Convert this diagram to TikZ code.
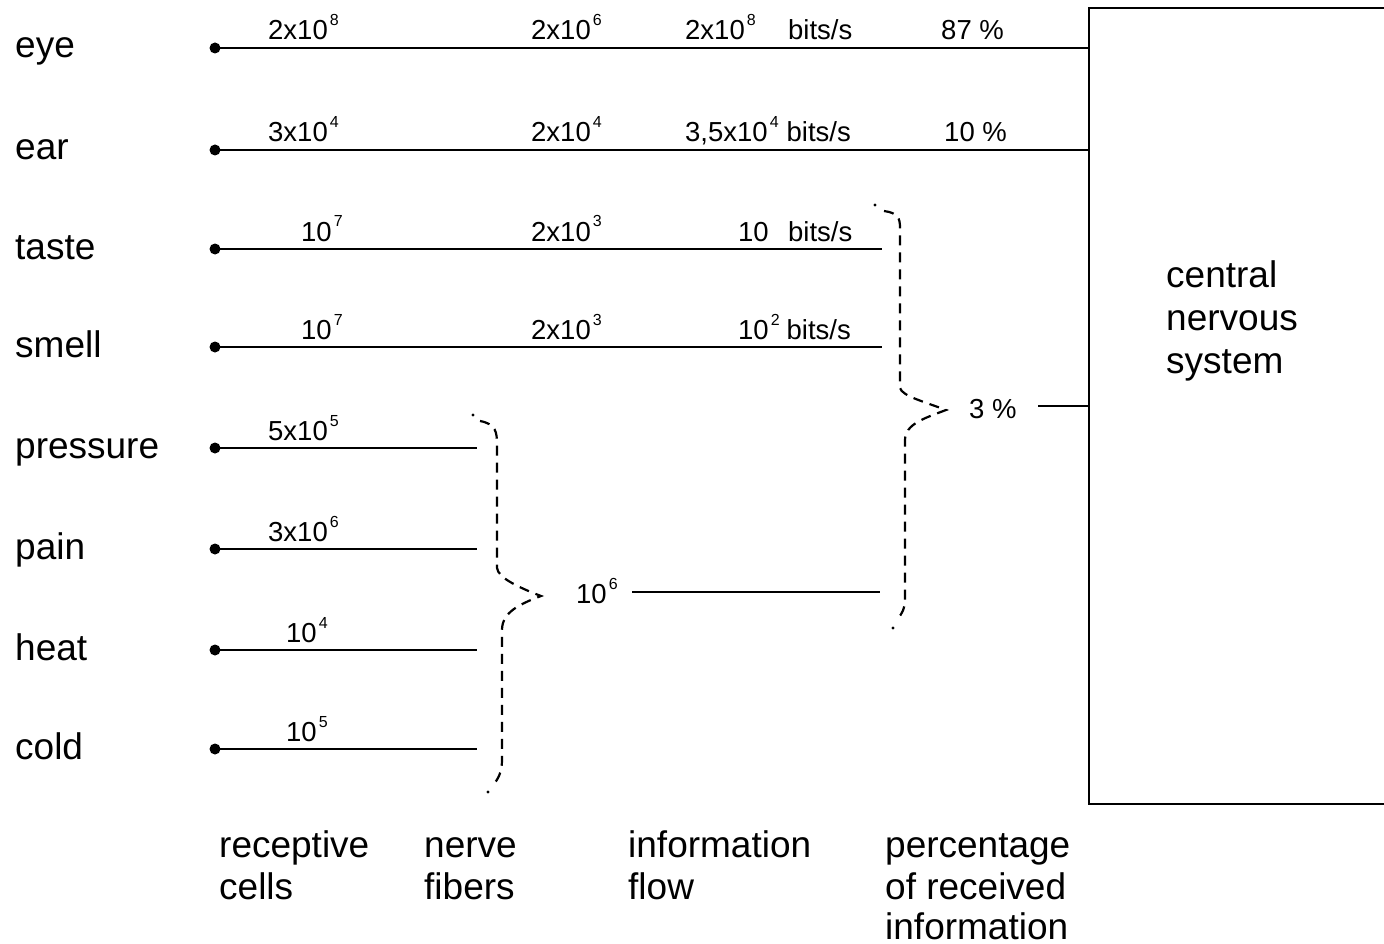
\documentclass[tikz,border=0pt]{standalone}
\usepackage{fontspec}
\setmainfont{Liberation Sans}
\newcommand\ex[1]{\hspace{2pt}\raisebox{14pt}{\fontsize{16}{16}\selectfont #1}}
\begin{document}
\begin{tikzpicture}[x=1pt,y=-1pt, line width=2.4pt,
  big/.style={font=\fontsize{37}{43}\selectfont, inner sep=0pt, anchor=base west},
  small/.style={font=\fontsize{27.5}{30}\selectfont, inner sep=0pt, anchor=base west},
  dot/.style={circle, fill=black, inner sep=0pt, minimum size=11pt},
  brace/.style={line width=2.2pt, dash pattern=on 10pt off 7pt}]
\useasboundingbox (0,0) rectangle (1384,944);

% box
\coordinate (cnsTL) at (1089,8);
\coordinate (cnsBL) at (1089,804);
\draw (1384,8) -- (cnsTL) -- (cnsBL) -- (1384,804);
\node[big] (cns1) at (1165,287) {central};
\node[big] (cns2) at (1165,330) {nervous};
\node[big] (cns3) at (1165,373) {system};

% left labels
\node[big] (leye) at (14,58) {eye};
\node[big] (lear) at (14,160) {ear};
\node[big] (ltaste) at (14,259) {taste};
\node[big] (lsmell) at (14,357) {smell};
\node[big] (lpress) at (14,458) {pressure};
\node[big] (lpain) at (14,559) {pain};
\node[big] (lheat) at (14,660) {heat};
\node[big] (lcold) at (14,759) {cold};

% dots
\node[dot] (deye) at (215,48) {};
\node[dot] (dear) at (215,150) {};
\node[dot] (dtaste) at (215,249) {};
\node[dot] (dsmell) at (215,347) {};
\node[dot] (dpress) at (215,448) {};
\node[dot] (dpain) at (215,549) {};
\node[dot] (dheat) at (215,650) {};
\node[dot] (dcold) at (215,749) {};

% line ends
\coordinate (etaste) at (882,249);
\coordinate (esmell) at (882,347);
\coordinate (epress) at (477,448);
\coordinate (epain) at (477,549);
\coordinate (eheat) at (477,650);
\coordinate (ecold) at (477,749);
\coordinate (fs) at (632,592);
\coordinate (fe) at (880,592);
\coordinate (ps) at (1038,406);

\draw (deye.center) -- (deye.center -| cnsTL);
\draw (dear.center) -- (dear.center -| cnsTL);
\draw (dtaste.center) -- (etaste);
\draw (dsmell.center) -- (esmell);
\draw (dpress.center) -- (epress);
\draw (dpain.center) -- (epain);
\draw (dheat.center) -- (eheat);
\draw (dcold.center) -- (ecold);
\draw (fs) -- (fe);
\draw (ps) -- (ps -| cnsTL);

% eye row
\node[small] (a1) at (267,40) {2x10\ex{8}};
\node[small] (a2) at (530,40) {2x10\ex{6}};
\node[small] (a3) at (684,40) {2x10\ex{8}};
\node[small] (a4) at (787,40) {bits/s};
\node[small] (a5) at (940,40) {87 \%};
% ear row
\node[small] (b1) at (267,142) {3x10\ex{4}};
\node[small] (b2) at (530,142) {2x10\ex{4}};
\node[small] (b3) at (684,142) {3,5x10\ex{4}\hspace{8pt}bits/s};
\node[small] (b5) at (943,142) {10 \%};
% taste row
\node[small] (c1) at (300,241) {10\ex{7}};
\node[small] (c2) at (530,241) {2x10\ex{3}};
\node[small] (c3) at (737,241) {10};
\node[small] (c4) at (787,241) {bits/s};
% smell row
\node[small] (s1) at (300,339) {10\ex{7}};
\node[small] (s2) at (530,339) {2x10\ex{3}};
\node[small] (s3) at (737,339) {10\ex{2}\hspace{7pt}bits/s};
% other
\node[small] (p1) at (267,440) {5x10\ex{5}};
\node[small] (q1) at (267,541) {3x10\ex{6}};
\node[small] (h1) at (285,642) {10\ex{4}};
\node[small] (k1) at (285,741) {10\ex{5}};
\node[small] (n6) at (575,603) {10\ex{6}};
\node[small] (pc) at (968,418) {3 \%};

% braces
\fill (473,415) circle (1.6pt);
\draw[brace] (480,421) .. controls (496,424) and (497,432) .. (497,445) -- (497,568)
  .. controls (498,578) and (520,588) .. (541,596)
  .. controls (520,604) and (502,612) .. (502,630) -- (502,760)
  .. controls (502,772) and (498,780) .. (492,786);
\fill (488,792) circle (1.6pt);

\fill (875,205) circle (1.6pt);
\draw[brace] (884,211) .. controls (898,213) and (900,218) .. (900,228) -- (900,388)
  .. controls (902,396) and (925,402) .. (946,410)
  .. controls (925,418) and (905,424) .. (905,440) -- (905,600)
  .. controls (905,608) and (902,614) .. (898,618);
\fill (893,628) circle (1.6pt);

% bottom labels
\node[big] (r1) at (218,857) {receptive};
\node[big] (r2) at (218,899) {cells};
\node[big] (n1) at (423,857) {nerve};
\node[big] (n2) at (423,899) {fibers};
\node[big] (i1) at (627,857) {information};
\node[big] (i2) at (627,899) {flow};
\node[big] (g1) at (884,857) {percentage};
\node[big] (g2) at (884,899) {of received};
\node[big] (g3) at (884,939) {information};
\end{tikzpicture}
\end{document}
